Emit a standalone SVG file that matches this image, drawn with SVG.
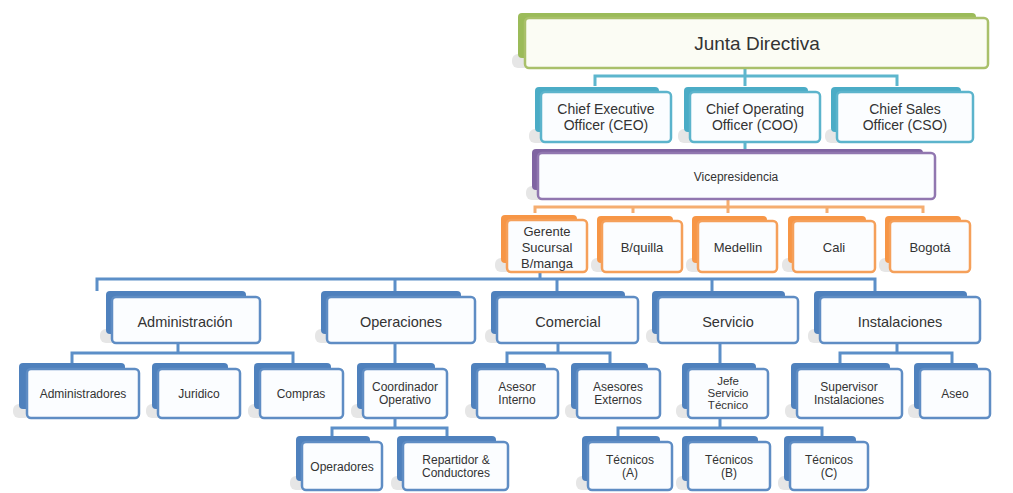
<svg xmlns="http://www.w3.org/2000/svg" width="1013" height="493" viewBox="0 0 1013 493">
<style>
text{font-family:"Liberation Sans",Arial,sans-serif;fill:#333;text-anchor:middle}
.curl{fill:#e6e6e6}
.fr{fill:#fbfdff;stroke-width:2.5}
.g .bk{fill:#9bbb59}.g .fr{stroke:#a9c06a;fill:#fbfcf4}
.t .bk{fill:#4bacc6}.t .fr{stroke:#5cb4cc}
.p .bk{fill:#8064a2}.p .fr{stroke:#9177b0}
.o .bk{fill:#f79646}.o .fr{stroke:#f5a05a}
.b .bk{fill:#4f81bd}.b .fr{stroke:#5f8dc4}
.c{fill:none;stroke-width:3;stroke-linecap:butt}
.ct{stroke:#5db6cd}.co{stroke:#f5ad70}.cb{stroke:#5c8fc8}
.f19{font-size:19px}.f14{font-size:14px}.f12{font-size:12px}.f13{font-size:13px}.f145{font-size:14.5px}.f115{font-size:11.5px}
</style>
<g id="connectors">
<path class="c ct" d="M745 68V76M595 86V76H897V86M745 76V86M745 142V151"/>
<path class="c co" d="M728 199V207M535 213V207H923V213M633 207V213M728 207V213M827 207V213"/>
<path class="c cb" d="M540 272V279M97 291V279H875V291M395 279V291M557 279V291M712 279V291"/>
<path class="c cb" d="M178 343V353M72 363V353H293V363"/>
<path class="c cb" d="M395 343V365"/>
<path class="c cb" d="M558 343V353M507 363V353H610V363"/>
<path class="c cb" d="M720 343V365"/>
<path class="c cb" d="M897 343V353M840 363V353H952V363"/>
<path class="c cb" d="M395 418V428M332 438V428H447V438"/>
<path class="c cb" d="M720 418V428M618 438V428H822V438"/>
</g>
<g id="n-junta" class="g"><rect class="curl" x="512" y="54" width="18" height="14" rx="6"/><rect class="bk" x="518" y="13" width="458" height="45" rx="4"/><rect class="fr" x="525" y="18" width="463" height="50" rx="4"/><text class="f19" x="757" y="50">Junta Directiva</text></g>
<g id="n-ceo" class="t"><rect class="curl" x="529" y="129" width="18" height="14" rx="6"/><rect class="bk" x="535" y="87" width="124" height="45" rx="4"/><rect class="fr" x="541" y="92" width="130" height="50" rx="4"/><text class="f14" x="606" y="114">Chief Executive</text><text class="f14" x="606" y="130">Officer (CEO)</text></g>
<g id="n-coo" class="t"><rect class="curl" x="678" y="129" width="18" height="14" rx="6"/><rect class="bk" x="684" y="87" width="124" height="45" rx="4"/><rect class="fr" x="690" y="92" width="130" height="50" rx="4"/><text class="f14" x="755" y="114">Chief Operating</text><text class="f14" x="755" y="130">Officer (COO)</text></g>
<g id="n-cso" class="t"><rect class="curl" x="825" y="129" width="18" height="14" rx="6"/><rect class="bk" x="831" y="87" width="130" height="45" rx="4"/><rect class="fr" x="837" y="92" width="136" height="50" rx="4"/><text class="f14" x="905" y="114">Chief Sales</text><text class="f14" x="905" y="130">Officer (CSO)</text></g>
<g id="n-vice" class="p"><rect class="curl" x="526" y="186" width="18" height="14" rx="6"/><rect class="bk" x="532" y="149" width="391" height="41" rx="4"/><rect class="fr" x="538" y="153" width="397" height="46" rx="4"/><text class="f12" x="736" y="181">Vicepresidencia</text></g>
<g id="n-gerente" class="o"><rect class="curl" x="495" y="258" width="18" height="14" rx="6"/><rect class="bk" x="501" y="215" width="76" height="48" rx="4"/><rect class="fr" x="507" y="220" width="80" height="52" rx="4"/><text class="f13" x="547" y="236">Gerente</text><text class="f13" x="547" y="252">Sucursal</text><text class="f13" x="547" y="268">B/manga</text></g>
<g id="n-bquilla" class="o"><rect class="curl" x="591" y="258" width="18" height="14" rx="6"/><rect class="bk" x="597" y="216" width="76" height="47" rx="4"/><rect class="fr" x="602" y="221" width="80" height="51" rx="4"/><text class="f13" x="642" y="252">B/quilla</text></g>
<g id="n-medellin" class="o"><rect class="curl" x="686" y="258" width="18" height="14" rx="6"/><rect class="bk" x="692" y="216" width="75" height="47" rx="4"/><rect class="fr" x="698" y="221" width="79" height="51" rx="4"/><text class="f13" x="738" y="252">Medellin</text></g>
<g id="n-cali" class="o"><rect class="curl" x="782" y="258" width="18" height="14" rx="6"/><rect class="bk" x="788" y="216" width="78" height="47" rx="4"/><rect class="fr" x="793" y="221" width="82" height="51" rx="4"/><text class="f13" x="834" y="252">Cali</text></g>
<g id="n-bogota" class="o"><rect class="curl" x="879" y="258" width="18" height="14" rx="6"/><rect class="bk" x="885" y="216" width="76" height="47" rx="4"/><rect class="fr" x="890" y="221" width="80" height="51" rx="4"/><text class="f13" x="930" y="252">Bogotá</text></g>
<g id="n-admin" class="b"><rect class="curl" x="100" y="329" width="18" height="14" rx="6"/><rect class="bk" x="106" y="291" width="140" height="43" rx="4"/><rect class="fr" x="112" y="297" width="148" height="46" rx="4"/><text class="f145" x="185" y="327">Administración</text></g>
<g id="n-oper" class="b"><rect class="curl" x="315" y="329" width="18" height="14" rx="6"/><rect class="bk" x="321" y="291" width="140" height="43" rx="4"/><rect class="fr" x="327" y="297" width="148" height="46" rx="4"/><text class="f145" x="401" y="327">Operaciones</text></g>
<g id="n-comercial" class="b"><rect class="curl" x="485" y="329" width="18" height="14" rx="6"/><rect class="bk" x="491" y="291" width="134" height="43" rx="4"/><rect class="fr" x="497" y="297" width="141" height="46" rx="4"/><text class="f145" x="568" y="327">Comercial</text></g>
<g id="n-servicio" class="b"><rect class="curl" x="646" y="329" width="18" height="14" rx="6"/><rect class="bk" x="652" y="291" width="133" height="43" rx="4"/><rect class="fr" x="658" y="297" width="140" height="46" rx="4"/><text class="f145" x="728" y="327">Servicio</text></g>
<g id="n-instal" class="b"><rect class="curl" x="808" y="329" width="18" height="14" rx="6"/><rect class="bk" x="814" y="291" width="153" height="43" rx="4"/><rect class="fr" x="820" y="297" width="160" height="46" rx="4"/><text class="f145" x="900" y="327">Instalaciones</text></g>
<g id="n-administradores" class="b"><rect class="curl" x="13" y="404" width="18" height="14" rx="6"/><rect class="bk" x="19" y="363" width="106" height="46" rx="4"/><rect class="fr" x="27" y="369" width="112" height="49" rx="4"/><text class="f12" x="83" y="398">Administradores</text></g>
<g id="n-juridico" class="b"><rect class="curl" x="146" y="404" width="18" height="14" rx="6"/><rect class="bk" x="152" y="363" width="76" height="46" rx="4"/><rect class="fr" x="158" y="369" width="82" height="49" rx="4"/><text class="f12" x="199" y="398">Juridico</text></g>
<g id="n-compras" class="b"><rect class="curl" x="248" y="404" width="18" height="14" rx="6"/><rect class="bk" x="254" y="363" width="77" height="46" rx="4"/><rect class="fr" x="260" y="369" width="83" height="49" rx="4"/><text class="f12" x="301" y="398">Compras</text></g>
<g id="n-coord" class="b"><rect class="curl" x="351" y="404" width="18" height="14" rx="6"/><rect class="bk" x="357" y="363" width="78" height="46" rx="4"/><rect class="fr" x="363" y="369" width="84" height="49" rx="4"/><text class="f12" x="405" y="391">Coordinador</text><text class="f12" x="405" y="404">Operativo</text></g>
<g id="n-asesorint" class="b"><rect class="curl" x="465" y="404" width="18" height="14" rx="6"/><rect class="bk" x="471" y="363" width="75" height="46" rx="4"/><rect class="fr" x="477" y="369" width="81" height="49" rx="4"/><text class="f12" x="517" y="391">Asesor</text><text class="f12" x="517" y="404">Interno</text></g>
<g id="n-asesorext" class="b"><rect class="curl" x="565" y="404" width="18" height="14" rx="6"/><rect class="bk" x="571" y="363" width="77" height="46" rx="4"/><rect class="fr" x="577" y="369" width="83" height="49" rx="4"/><text class="f12" x="618" y="391">Asesores</text><text class="f12" x="618" y="404">Externos</text></g>
<g id="n-jefe" class="b"><rect class="curl" x="676" y="404" width="18" height="14" rx="6"/><rect class="bk" x="682" y="363" width="74" height="46" rx="4"/><rect class="fr" x="688" y="369" width="80" height="49" rx="4"/><text class="f115" x="728" y="385">Jefe</text><text class="f115" x="728" y="397">Servicio</text><text class="f115" x="728" y="409">Técnico</text></g>
<g id="n-supervisor" class="b"><rect class="curl" x="785" y="404" width="18" height="14" rx="6"/><rect class="bk" x="791" y="363" width="99" height="46" rx="4"/><rect class="fr" x="797" y="369" width="105" height="49" rx="4"/><text class="f12" x="849" y="391">Supervisor</text><text class="f12" x="849" y="404">Instalaciones</text></g>
<g id="n-aseo" class="b"><rect class="curl" x="908" y="404" width="18" height="14" rx="6"/><rect class="bk" x="914" y="363" width="64" height="46" rx="4"/><rect class="fr" x="920" y="369" width="70" height="49" rx="4"/><text class="f12" x="955" y="398">Aseo</text></g>
<g id="n-operadores" class="b"><rect class="curl" x="290" y="476" width="18" height="14" rx="6"/><rect class="bk" x="296" y="436" width="74" height="45" rx="4"/><rect class="fr" x="302" y="442" width="80" height="48" rx="4"/><text class="f12" x="342" y="471">Operadores</text></g>
<g id="n-repartidor" class="b"><rect class="curl" x="391" y="476" width="18" height="14" rx="6"/><rect class="bk" x="397" y="436" width="99" height="45" rx="4"/><rect class="fr" x="403" y="442" width="105" height="48" rx="4"/><text class="f12" x="456" y="464">Repartidor &amp;</text><text class="f12" x="456" y="477">Conductores</text></g>
<g id="n-tecA" class="b"><rect class="curl" x="576" y="476" width="18" height="14" rx="6"/><rect class="bk" x="582" y="436" width="78" height="45" rx="4"/><rect class="fr" x="588" y="442" width="84" height="48" rx="4"/><text class="f12" x="630" y="464">Técnicos</text><text class="f12" x="630" y="477">(A)</text></g>
<g id="n-tecB" class="b"><rect class="curl" x="676" y="476" width="18" height="14" rx="6"/><rect class="bk" x="682" y="436" width="76" height="45" rx="4"/><rect class="fr" x="688" y="442" width="82" height="48" rx="4"/><text class="f12" x="729" y="464">Técnicos</text><text class="f12" x="729" y="477">(B)</text></g>
<g id="n-tecC" class="b"><rect class="curl" x="778" y="476" width="18" height="14" rx="6"/><rect class="bk" x="784" y="436" width="72" height="45" rx="4"/><rect class="fr" x="790" y="442" width="78" height="48" rx="4"/><text class="f12" x="829" y="464">Técnicos</text><text class="f12" x="829" y="477">(C)</text></g>
</svg>
